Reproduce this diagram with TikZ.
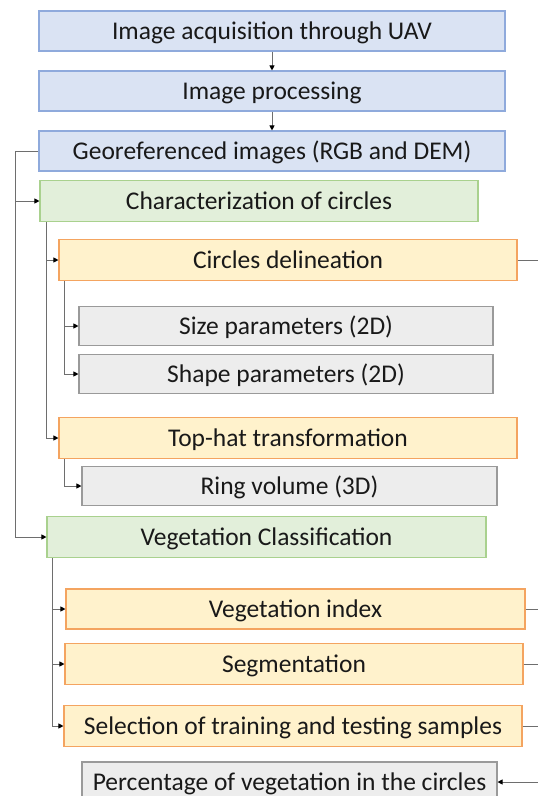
\documentclass[tikz,border=0pt]{standalone}
\usepackage{fontspec}
\setmainfont{Carlito}
\usetikzlibrary{arrows.meta}
\definecolor{bluefill}{HTML}{DAE3F3}
\definecolor{blueline}{HTML}{8FAADC}
\definecolor{greenfill}{HTML}{E2EFDA}
\definecolor{greenline}{HTML}{A9D18E}
\definecolor{orangefill}{HTML}{FFF2CC}
\definecolor{orangeline}{HTML}{F4A460}
\definecolor{grayfill}{HTML}{EDEDED}
\definecolor{grayline}{HTML}{9A9A9A}
\definecolor{conncol}{HTML}{6E6E6E}
\tikzset{
  box/.style={rectangle, line width=1.1pt, inner sep=0pt, text height=18.4pt, text depth=2pt, font=\fontsize{25.5}{30}\selectfont, text=black!90},
  bluebox/.style={box, fill=bluefill, draw=blueline},
  greenbox/.style={box, fill=greenfill, draw=greenline},
  orangebox/.style={box, fill=orangefill, draw=orangeline},
  graybox/.style={box, fill=grayfill, draw=grayline},
  conn/.style={draw=conncol, line width=0.9pt},
  arr/.style={conn, arrows={-{Triangle[length=5pt,width=5pt,color=black]}}},
}
\begin{document}
\begin{tikzpicture}[x=1pt,y=-1pt]
\useasboundingbox (0,0) rectangle (538,796);
\clip (0,0) rectangle (538,796);
\fill[white] (0,0) rectangle (538,796);
\coordinate (tk) at (15,0);
\coordinate (edge) at (538,0);

\node[bluebox, minimum width=466pt, minimum height=40pt] (a) at (272,31) {Image acquisition through UAV};
\node[bluebox, minimum width=466pt, minimum height=40pt] (b) at (272,91) {Image processing};
\node[bluebox, minimum width=466pt, minimum height=40pt] (c) at (272,151) {Georeferenced images (RGB and DEM)};
\node[greenbox, minimum width=438pt, minimum height=41pt] (d) at (259,201) {Characterization of circles};
\node[orangebox, minimum width=458pt, minimum height=41pt] (cd) at (288,260) {Circles delineation};
\node[graybox, minimum width=414pt, minimum height=39pt] (sp) at (286,326) {Size parameters (2D)};
\node[graybox, minimum width=414pt, minimum height=39pt] (shp) at (286,374) {Shape parameters (2D)};
\node[orangebox, minimum width=458pt, minimum height=41pt] (th) at (288,438) {Top-hat transformation};
\node[graybox, minimum width=415pt, minimum height=39pt] (rv) at (289.5,486) {Ring volume (3D)};
\node[greenbox, minimum width=439pt, minimum height=41pt] (vc) at (266.5,537) {Vegetation Classification};
\node[orangebox, minimum width=459pt, minimum height=40pt] (vi) at (295.5,609) {Vegetation index};
\node[orangebox, minimum width=458pt, minimum height=41pt] (sg) at (294,664) {Segmentation};
\node[orangebox, minimum width=458pt, minimum height=41pt] (sel) at (293,726) {Selection of training and testing samples};
\node[graybox, minimum width=415pt, minimum height=40pt] (pc) at (289.5,782) {Percentage of vegetation in the circles};

\draw[arr] (a.south) -- (b.north);
\draw[arr] (b.south) -- (c.north);
\draw[arr] (c.west) -- (c.west -| tk) |- (vc.west);
\draw[arr] (c.west -| tk) |- (d.west);
\draw[arr] ([xshift=7pt]d.south west) |- (cd.west);
\draw[arr] ([xshift=7pt]d.south west) |- (th.west);
\draw[arr] ([xshift=6pt]cd.south west) |- (sp.west);
\draw[arr] ([xshift=6pt]cd.south west) |- (shp.west);
\draw[arr] ([xshift=6pt]th.south west) |- (rv.west);
\draw[arr] ([xshift=6pt]vc.south west) |- (vi.west);
\draw[arr] ([xshift=6pt]vc.south west) |- (sg.west);
\draw[arr] ([xshift=6pt]vc.south west) |- (sel.west);
\draw[conn] (cd.east) -- (cd.east -| edge);
\draw[conn] (vi.east) -- (vi.east -| edge);
\draw[conn] (sg.east) -- (sg.east -| edge);
\draw[conn] (sel.east) -- (sel.east -| edge);
\draw[arr] (pc.east -| edge) -- (pc.east);
\end{tikzpicture}
\end{document}
